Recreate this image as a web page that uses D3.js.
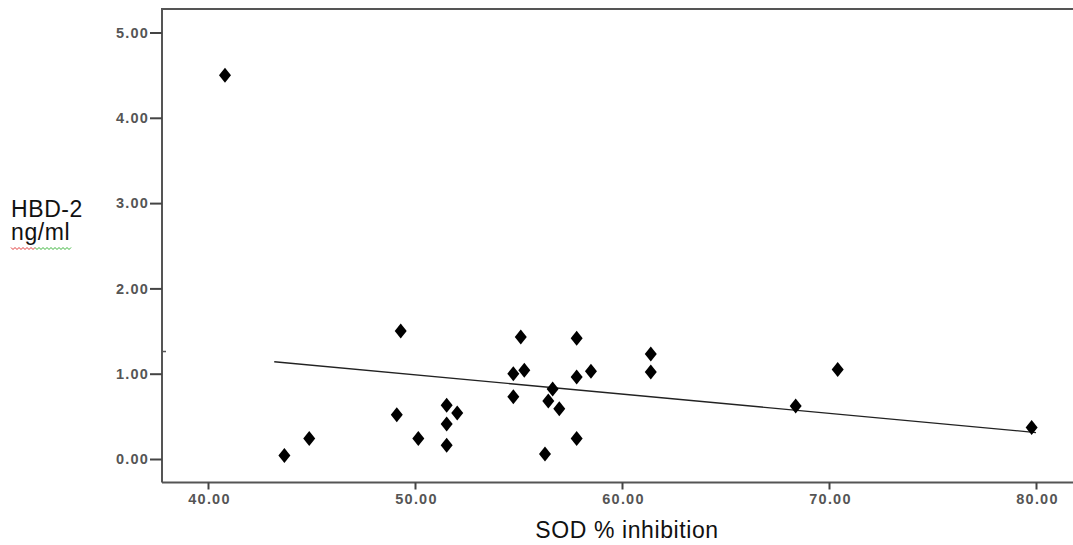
<!DOCTYPE html>
<html>
<head>
<meta charset="utf-8">
<script src="https://cdn.jsdelivr.net/npm/d3@7"></script>
<style>
  body { margin: 0; background: #fff; }
  svg { display: block; }
  .tick text { font-family: "Liberation Sans", Arial, sans-serif; font-weight: bold; fill: #555; font-size: 14.5px; letter-spacing: 1.2px; }
  .title { font-family: "Liberation Sans", Arial, sans-serif; fill: #111; letter-spacing: 0.6px; }
</style>
</head>
<body>
<svg id="chart" width="1073" height="545"></svg>
<script>
// SOD % inhibition vs HBD-2 ng/ml
var sodInhibition = [40.82, 43.69, 44.89, 49.31, 49.12, 50.16, 51.53, 51.53, 51.53, 52.04,
  55.11, 54.75, 55.28, 54.75, 56.65, 56.44, 56.97, 56.28, 57.81, 57.81, 57.81, 58.50,
  61.39, 61.39, 68.39, 70.42, 79.79];
var hbd2 = [4.50, 0.04, 0.24, 1.50, 0.52, 0.24, 0.63, 0.41, 0.16, 0.54,
  1.43, 1.00, 1.04, 0.73, 0.82, 0.68, 0.59, 0.06, 1.415, 0.96, 0.24, 1.03,
  1.23, 1.02, 0.62, 1.05, 0.37];
// fit line end points
var fitX = [43.2, 80.0];
var fitY = [1.14, 0.31];
var xTicks = [40, 50, 60, 70, 80];
var yTicks = [0, 1, 2, 3, 4, 5];

var svg = d3.select('#chart');
var plotL = 162, plotR = 1090, plotT = 9, plotB = 482.5;

var x = d3.scaleLinear().domain([40, 80]).range([208, 1036]);
var y = d3.scaleLinear().domain([0, 5]).range([459, 32.5]);

// frame (top line runs off the right edge)
svg.append('path')
  .attr('d', 'M' + plotL + ',' + plotB + 'V' + plotT + 'H' + plotR)
  .attr('fill', 'none').attr('stroke', '#555').attr('stroke-width', 2);

var xAxis = svg.append('g')
  .attr('transform', 'translate(0,' + plotB + ')')
  .call(d3.axisBottom(x).tickValues(xTicks).tickSize(7).tickPadding(4).tickFormat(d3.format('.2f')));
xAxis.select('.domain').attr('d', 'M' + plotL + ',0H' + plotR).attr('stroke', '#555').attr('stroke-width', 2);
xAxis.selectAll('.tick line').attr('stroke', '#444').attr('stroke-width', 2);
xAxis.selectAll('.tick text').attr('dx', '1px');

var yAxis = svg.append('g')
  .attr('transform', 'translate(' + plotL + ',0)')
  .call(d3.axisLeft(y).tickValues(yTicks).tickSize(12).tickPadding(1).tickFormat(d3.format('.2f')));
yAxis.select('.domain').remove();
yAxis.selectAll('.tick line').attr('stroke', '#444').attr('stroke-width', 2);

// small stray mark on the y axis
svg.append('line').attr('x1', plotL).attr('x2', plotL + 4)
  .attr('y1', y(1.26)).attr('y2', y(1.26)).attr('stroke', '#555').attr('stroke-width', 1.5);

// fit line
svg.append('line')
  .attr('x1', x(fitX[0])).attr('y1', y(fitY[0]))
  .attr('x2', x(fitX[1])).attr('y2', y(fitY[1]))
  .attr('stroke', '#222').attr('stroke-width', 1.3);

// diamonds
var diamond = 'M0,-7.5L6,0L0,7.5L-6,0Z';
svg.append('g').selectAll('path')
  .data(sodInhibition)
  .enter().append('path')
  .attr('d', diamond)
  .attr('transform', function(d, i){ return 'translate(' + x(d) + ',' + y(hbd2[i]) + ')'; })
  .attr('fill', '#000');

// titles
svg.append('text').attr('class', 'title')
  .attr('x', 627).attr('y', 538).attr('text-anchor', 'middle')
  .style('font-size', '23px').text('SOD % inhibition');

svg.append('text').attr('class', 'title')
  .attr('x', 11).attr('y', 217).style('font-size', '23px').text('HBD-2');
svg.append('text').attr('class', 'title')
  .attr('x', 11).attr('y', 240).style('font-size', '23px').text('ng/ml');

// spell-check squiggles under ng/ml
var wave = function(x0, x1, yy){
  var pts = [];
  for (var px = x0, k = 0; px <= x1; px += 2, k++) pts.push([px, yy + (k % 2 ? 1.5 : -0.5)]);
  return d3.line()(pts);
};
svg.append('path').attr('d', wave(11, 35, 248)).attr('fill', 'none').attr('stroke', '#d22').attr('stroke-width', 0.9);
svg.append('path').attr('d', wave(35, 71, 248)).attr('fill', 'none').attr('stroke', '#2a2').attr('stroke-width', 0.9);
</script>
</body>
</html>
